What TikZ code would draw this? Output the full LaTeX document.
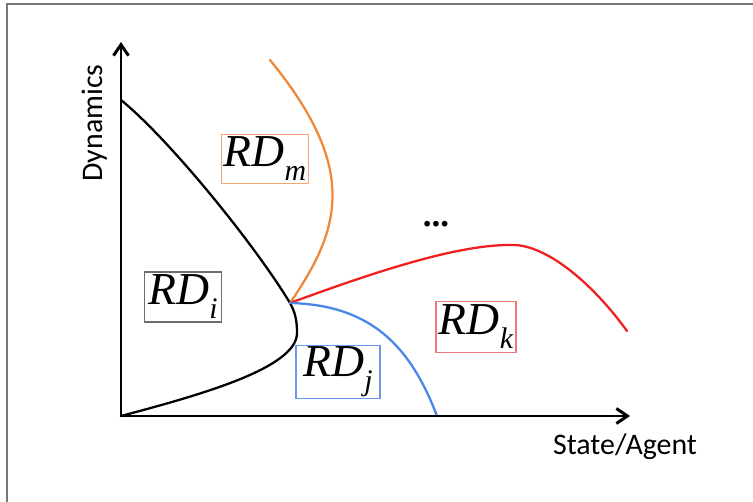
\documentclass[tikz,border=0pt]{standalone}
\usepackage{fontspec}
\setmainfont{Liberation Serif}
\newfontfamily\axisfont{Carlito}
\usetikzlibrary{arrows.meta}
\definecolor{FrameGray}{RGB}{120,120,120}
\definecolor{CurveOrange}{RGB}{240,136,58}
\definecolor{CurveRed}{RGB}{240,32,32}
\definecolor{CurveBlue}{RGB}{74,134,232}
\definecolor{BoxGray}{RGB}{110,110,110}
\definecolor{BoxOrange}{RGB}{245,165,115}
\definecolor{BoxRed}{RGB}{240,120,120}
\definecolor{BoxBlue}{RGB}{105,150,240}
\newcommand{\regionsub}[1]{\raisebox{-8pt}{\fontsize{17}{20}\selectfont #1}}
\tikzset{
  axis/.style={{Straight Barb[length=2.2mm,width=3mm]}-{Straight Barb[length=2.2mm,width=3mm]},
    line width=1.7pt,draw=black,miter limit=4},
  border/.style={curve,draw=black},
  curve/.style={line width=1.3pt,line cap=round},
  regionbox/.style={line width=0.6pt,inner sep=0pt,
    font=\fontsize{26}{30}\selectfont\itshape},
  axislabel/.style={font=\axisfont\fontsize{17}{20}\selectfont,inner sep=0pt}
}
\begin{document}
\begin{tikzpicture}[x=0.02cm,y=-0.02cm]
  \useasboundingbox (0,0) rectangle (753,502);
  \draw[FrameGray,line width=0.6pt] (7,502) -- (7,4) -- (753,4);
  \coordinate (o) at (121,416);
  \coordinate (ytip) at (121,42);
  \coordinate (xtip) at (630,416);
  \coordinate (j) at (290,303);
  \coordinate (bstart) at (121,100);
  \coordinate (bulge) at (297,333);
  \coordinate (ostart) at (270,60);
  \coordinate (rpeak) at (513,245);
  \coordinate (rend) at (627,331);
  \coordinate (bend) at (437,416);
  \draw[border] (bstart) .. controls (170,140) and (255,245) .. (j)
    .. controls (295,312) and (297,320) .. (bulge)
    .. controls (297,368) and (200,395) .. (o);
  \draw[curve,CurveOrange] (ostart) .. controls (360,170) and (340,230) .. (j);
  \draw[curve,CurveRed] (j) .. controls (380,270) and (460,244) .. (rpeak)
    .. controls (545,245) and (590,280) .. (rend);
  \draw[curve,CurveBlue] (j) .. controls (370,305) and (410,345) .. (bend);
  \draw[axis] (ytip) -- (o) -- (xtip);
  \node[axislabel,rotate=90] (ylab) at (95,123) {Dynamics};
  \node[axislabel] (xlab) at (625,447) {State/Agent};
  \node[regionbox,draw=BoxGray,minimum width=1.54cm,minimum height=1.0cm] (rdi) at (183,297) {RD\regionsub{i}};
  \node[regionbox,draw=BoxOrange,minimum width=1.74cm,minimum height=0.98cm] (rdm) at (265,159) {RD\regionsub{m}};
  \node[regionbox,draw=BoxBlue,minimum width=1.68cm,minimum height=1.06cm] (rdj) at (338,372) {RD\regionsub{j}};
  \node[regionbox,draw=BoxRed,minimum width=1.6cm,minimum height=1.02cm] (rdk) at (476,327) {RD\regionsub{k}};
  \node[font=\fontsize{20}{24}\selectfont\bfseries] (dots) at (436,224) {...};
\end{tikzpicture}
\end{document}
